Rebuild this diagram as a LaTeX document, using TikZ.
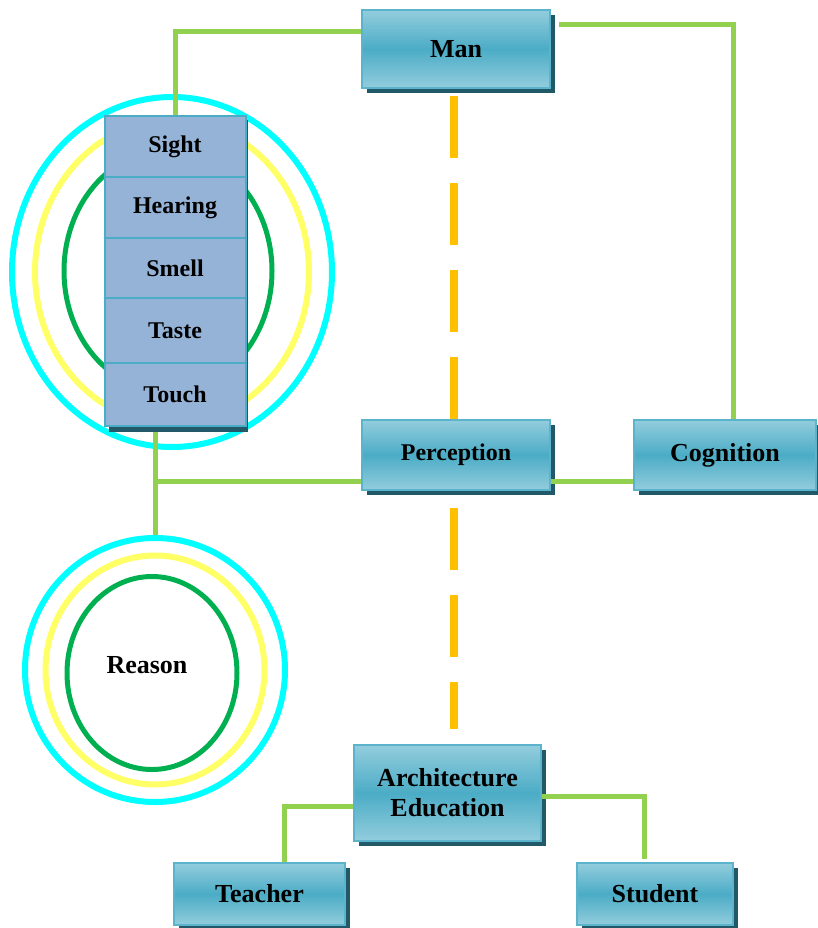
\documentclass[tikz,border=0pt]{standalone}
\usepackage{fontspec}
\setmainfont{Liberation Serif}
\usetikzlibrary{shapes.geometric,shadows}
\definecolor{boxmid}{HTML}{4BACC6}
\definecolor{boxlight}{HTML}{93CDDD}
\definecolor{boxedge}{HTML}{5BB4CC}
\definecolor{shadowcol}{HTML}{215968}
\definecolor{sensefill}{HTML}{95B3D7}
\definecolor{senseedge}{HTML}{4BACC6}
\definecolor{linkgreen}{HTML}{92D050}
\definecolor{dashgold}{HTML}{FFC000}
\definecolor{ringcyan}{HTML}{00FFFF}
\definecolor{ringyellow}{HTML}{FFFF66}
\definecolor{ringgreen}{HTML}{00B050}
\begin{document}
\begin{tikzpicture}[x=1pt,y=-1pt,
  bluebox/.style={rectangle, draw=boxedge, line width=1.5pt,
    top color=boxlight, bottom color=boxlight, middle color=boxmid,
    drop shadow={shadow xshift=5pt, shadow yshift=-5pt, fill=shadowcol, opacity=1},
    inner sep=0pt, align=center, font=\fontsize{26}{30}\selectfont\bfseries},
  sensebox/.style={rectangle, draw=senseedge, line width=2pt, fill=sensefill,
    minimum width=141pt, inner sep=0pt, font=\fontsize{24}{28}\selectfont\bfseries},
  ring/.style={ellipse, draw, inner sep=0pt},
  link/.style={draw=linkgreen, line width=5pt},
  dashlink/.style={draw=dashgold, line width=8pt, dash pattern=on 62pt off 25pt}]
\useasboundingbox (0,0) rectangle (818,928);
% rings around the senses
\node[ring, draw=ringcyan, line width=6pt, minimum width=320pt, minimum height=350pt] (ringC) at (172,272) {};
\node[ring, draw=ringyellow, line width=6pt, minimum width=274pt, minimum height=304pt] (ringY) at (172,272) {};
\node[ring, draw=ringgreen, line width=5pt, minimum width=208pt, minimum height=242pt] (ringG) at (168,271) {};
% reason rings
\node[ring, draw=ringcyan, line width=6pt, minimum width=260pt, minimum height=264pt] (reasonC) at (155,670) {};
\node[ring, draw=ringyellow, line width=6pt, minimum width=219pt, minimum height=229pt] (reasonY) at (155,670) {};
\node[ring, draw=ringgreen, line width=5pt, minimum width=170pt, minimum height=193pt] (reasonG) at (152,673) {};
\node[font=\fontsize{26}{30}\selectfont\bfseries] (reason) at (147,665) {Reason};
% boxes
\node[bluebox, minimum width=188pt, minimum height=78pt] (man) at (456,49) {Man};
\node[bluebox, minimum width=188pt, minimum height=70pt, font=\fontsize{24}{28}\selectfont\bfseries] (perc) at (456,455) {Perception};
\node[bluebox, minimum width=182pt, minimum height=70pt] (cog) at (725,455) {Cognition};
\node[bluebox, minimum width=187pt, minimum height=96pt] (arch) at (447.5,793) {Architecture\\Education};
\node[bluebox, minimum width=171pt, minimum height=62pt] (teacher) at (259.5,894) {Teacher};
\node[bluebox, minimum width=156pt, minimum height=62pt] (student) at (655,894) {Student};
% connectors
\coordinate (jn) at (155,481);
\coordinate (dx) at (454,0);
\draw[link] ([yshift=17pt]man.west) -| (175,116) coordinate (sighttop);
\draw[link] ([xshift=8pt,yshift=24pt]man.east) -| ([xshift=8pt]cog.north);
\draw[link] ([yshift=-26pt]perc.west) -- (jn);
\draw[link] (155,432) coordinate (stackbot) -- (reasonC.north);
\draw[link] ([yshift=-26pt]perc.east) -- ([yshift=-26pt]cog.west);
\draw[link] ([yshift=-13pt]arch.west) -| ([xshift=24.5pt]teacher.north);
\draw[link] ([yshift=-3pt]arch.east) -| ([xshift=-11pt,yshift=3pt]student.north);
\draw[dashlink] ([yshift=-7pt]man.south -| dx) -- (perc.north -| dx);
\draw[dashlink] ([yshift=-17pt]perc.south -| dx) -- ([yshift=15pt]arch.north -| dx);
% sense stack
\fill[shadowcol] (109,120) rectangle (248,432);
\node[sensebox, minimum height=61pt] (sight) at (175,146.5) {Sight};
\node[sensebox, minimum height=61pt] (hearing) at (175,207.5) {Hearing};
\node[sensebox, minimum height=60pt] (smell) at (175,268) {Smell};
\node[sensebox, minimum height=65pt] (taste) at (175,330.5) {Taste};
\node[sensebox, minimum height=63pt] (touch) at (175,394.5) {Touch};
\end{tikzpicture}
\end{document}
